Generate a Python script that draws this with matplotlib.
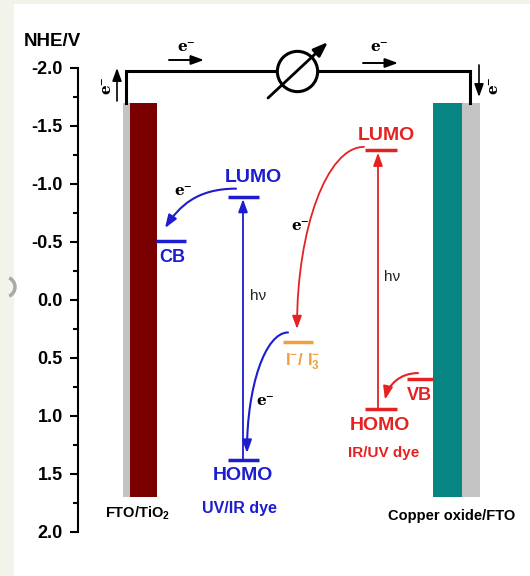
import matplotlib.pyplot as plt
from matplotlib.patches import FancyArrowPatch, Arc
from matplotlib.path import Path
from matplotlib.transforms import IdentityTransform

plt.rcParams['font.family'] = ['Liberation Sans', 'DejaVu Sans']
plt.rcParams['mathtext.fontset'] = 'custom'
plt.rcParams['mathtext.rm'] = 'Liberation Sans:bold'
plt.rcParams['mathtext.bf'] = 'Liberation Sans:bold'

# energy levels (V vs NHE)
electrode_span = [-1.7, 1.7]
wire_level = -1.97
cb_tio2 = -0.51
lumo_uvir = -0.89
homo_uvir = 1.38
lumo_iruv = -1.29
homo_iruv = 0.94
redox_i = 0.36
vb_cuo = 0.68

yticks = [-2.0, -1.5, -1.0, -0.5, 0.0, 0.5, 1.0, 1.5, 2.0]
ytick_labels = ['-2.0', '-1.5', '-1.0', '-0.5', '0.0', '0.5', '1.0', '1.5', '2.0']

blue = '#1c1cd0'
red = '#e52222'
orange = '#f0a040'
maroon = '#7a0000'
teal = '#078582'
grey = '#c3c3c3'


def v(py):
    # picture row -> volts, used only for placing labels
    return (py - 300) / 116.0


fig = plt.figure(figsize=(5.30, 5.76), dpi=100, facecolor='#f2f4ec')
ax = fig.add_axes([14 / 530, 0, 516 / 530, 572 / 576])
ax.set_facecolor('white')
ax.set_xlim(14, 530)
ax.set_ylim(v(576), v(4))

# y axis
for s in ['top', 'right', 'bottom']:
    ax.spines[s].set_visible(False)
ax.spines['left'].set_position(('data', 78))
ax.spines['left'].set_bounds(yticks[0], yticks[-1])
ax.spines['left'].set_linewidth(1.5)
ax.set_xticks([])
ax.set_yticks(yticks)
ax.set_yticklabels(ytick_labels, fontsize=13, fontweight='bold')
ax.set_yticks([t + 0.25 for t in yticks[:-1]], minor=True)
ax.tick_params(axis='y', which='major', length=6, width=1.5, pad=5)
ax.tick_params(axis='y', which='minor', length=3.5, width=1.5)
ax.text(24, v(41), 'NHE/V', fontsize=13.5, fontweight='bold', ha='left', va='center')

# electrodes
h = electrode_span[1] - electrode_span[0]
ax.bar(126.5, h, bottom=electrode_span[0], width=7, color=grey, zorder=2)
ax.bar(143.5, h, bottom=electrode_span[0], width=27, color=maroon, zorder=2)
ax.bar(447.5, h, bottom=electrode_span[0], width=29, color=teal, zorder=2)
ax.bar(471, h, bottom=electrode_span[0], width=18, color=grey, zorder=2)

# external circuit
ax.plot([126, 126, 470, 470], [electrode_span[0], wire_level, wire_level, electrode_span[0]],
        color='black', lw=2.2, zorder=3, solid_joinstyle='miter')
ax.plot([297], [wire_level], 'o', ms=29, mfc='white', mec='black', mew=2.2, zorder=4)

astyle = '-|>,head_length=0.55,head_width=0.2'


def arrow(p0, p1, color, lw=1.4, ms=14):
    ax.add_patch(FancyArrowPatch(p0, p1, arrowstyle=astyle, mutation_scale=ms, color=color,
                                 lw=lw, shrinkA=0, shrinkB=0, zorder=5))


def curve(p0, p1, color, lw=1.5, tilt=0.0, k=0.552):
    # leaves p0 horizontally, bends down into p1 (quarter-ellipse like)
    (x0, y0), (x1, y1) = p0, p1
    c1 = (x0 + k * (x1 - x0), y0)
    c2 = (x1 + tilt * (x0 - x1), y1 + k * (y0 - y1))
    path = Path([p0, c1, c2, p1], [Path.MOVETO, Path.CURVE4, Path.CURVE4, Path.CURVE4])
    ax.add_patch(FancyArrowPatch(path=path, arrowstyle=astyle, mutation_scale=14,
                                 color=color, lw=lw, zorder=5))


arrow((268, v(98)), (328, v(42)), 'black', lw=2, ms=16)
arrow((169, v(60)), (204, v(60)), 'black', lw=1.4)
arrow((363, v(63)), (398, v(63)), 'black', lw=1.4)
arrow((117, v(101)), (117, v(68)), 'black', lw=1.2)
arrow((479, v(65)), (479, v(97)), 'black', lw=1.2)

ef = ['DejaVu Serif']
ax.text(186, v(47), 'e\u207b', family=ef, fontsize=11, fontweight='bold', ha='center', va='center')
ax.text(379, v(47), 'e\u207b', family=ef, fontsize=11, fontweight='bold', ha='center', va='center')
ax.text(106, v(85), 'e\u207b', family=ef, fontsize=11, fontweight='bold', ha='center', va='center', rotation=90)
ax.text(493, v(85), 'e\u207b', family=ef, fontsize=11, fontweight='bold', ha='center', va='center', rotation=90)

# energy levels
ax.hlines(cb_tio2, 156, 186, color=blue, lw=2.5, zorder=4)
ax.hlines([lumo_uvir, homo_uvir], 228, 259, color=blue, lw=2.5, zorder=4)
ax.hlines([lumo_iruv, homo_iruv], 365, 397, color=red, lw=2.5, zorder=4)
ax.hlines(redox_i, 283, 313, color=orange, lw=2.5, zorder=4)
ax.hlines(vb_cuo, 407, 433, color=red, lw=2.5, zorder=4)

# excitation arrows
arrow((243, homo_uvir), (243, lumo_uvir + 0.02), blue, lw=1.3)
arrow((378, homo_iruv), (378, lumo_iruv + 0.02), red, lw=1.3)

# electron transfer
curve((236, lumo_uvir - 0.07), (165, cb_tio2 - 0.11), blue, tilt=0.2)
curve((364, lumo_iruv - 0.03), (297, redox_i - 0.11), red, lw=1.3)
curve((288, redox_i - 0.08), (247, homo_uvir - 0.06), blue)
curve((418, vb_cuo - 0.05), (385, homo_iruv - 0.08), red, tilt=0.1)

ax.text(183, v(191), 'e\u207b', family=ef, fontsize=11, fontweight='bold', ha='center', va='center')
ax.text(300, v(226), 'e\u207b', family=ef, fontsize=11, fontweight='bold', ha='center', va='center')
ax.text(265, v(401), 'e\u207b', family=ef, fontsize=11, fontweight='bold', ha='center', va='center')
ax.text(258, v(296), 'h\u03bd', fontsize=11, color='#222222', ha='center', va='center')
ax.text(392, v(277), 'h\u03bd', fontsize=11, color='#222222', ha='center', va='center')

# labels
lab = dict(fontsize=14, fontweight='bold', ha='center', va='center')
ax.text(253, v(178), 'LUMO', color=blue, **lab)
ax.text(243, v(476), 'HOMO', color=blue, **lab)
ax.text(386, v(136), 'LUMO', color=red, **lab)
ax.text(380, v(426), 'HOMO', color=red, **lab)
ax.text(172, v(258), 'CB', color=blue, fontsize=13, fontweight='bold', ha='center', va='center')
ax.text(419, v(396), 'VB', color=red, fontsize=13, fontweight='bold', ha='center', va='center')
ax.text(303, v(362), r'$\mathbf{I^{-}/\ I_{3}^{-}}$', color=orange, fontsize=12, ha='center', va='center')
ax.text(239, v(508), 'UV/IR dye', color=blue, fontsize=11.5, fontweight='bold', ha='center', va='center')
ax.text(384, v(453), 'IR/UV dye', color=red, fontsize=11, fontweight='bold', ha='center', va='center')
ax.text(105, v(513), r'FTO/TiO$_\mathbf{2}$', fontsize=10.5, fontweight='bold', ha='left', va='center')
ax.text(388, v(516), 'Copper oxide/FTO', fontsize=10.5, fontweight='bold', ha='left', va='center',
        clip_on=True)

# margin artefact
fig.add_artist(Arc((5, 576 - 287), 20, 20, theta1=-65, theta2=65, color='#a8a8a8', lw=2.5,
                   transform=IdentityTransform()))

fig.savefig('out.png', dpi=100, facecolor=fig.get_facecolor())
